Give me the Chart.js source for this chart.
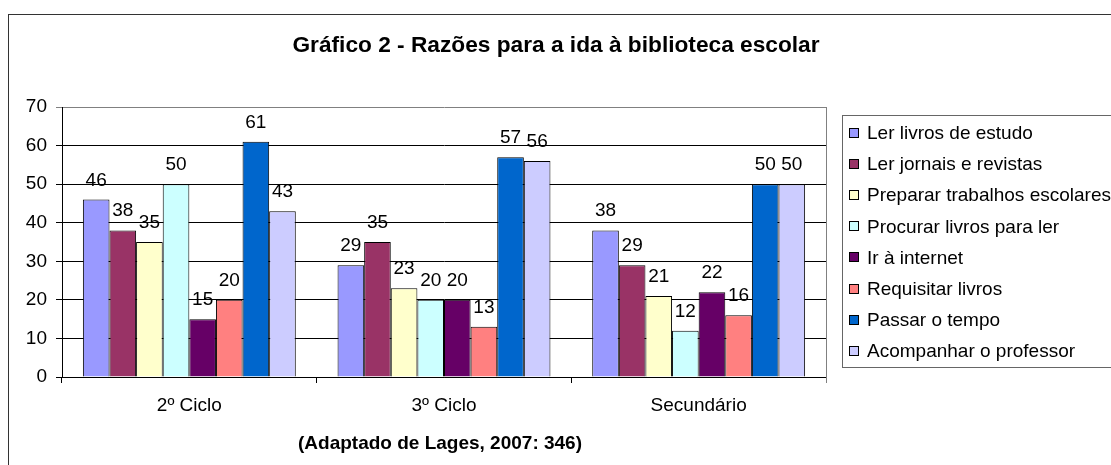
<!DOCTYPE html>
<html>
<head>
<meta charset="utf-8">
<script src="https://cdn.jsdelivr.net/npm/chart.js@4"></script>
<style>
    body { margin: 0; background: #fff; }
    #wrap { width: 1111px; height: 465px; }
</style>
</head>
<body>
<div id="wrap"><canvas id="myChart" width="1111" height="465"></canvas></div>
<script>
const categories = ["2º Ciclo", "3º Ciclo", "Secundário"];
const seriesNames = [
    "Ler livros de estudo",
    "Ler jornais e revistas",
    "Preparar trabalhos escolares",
    "Procurar livros para ler",
    "Ir à internet",
    "Requisitar livros",
    "Passar o tempo",
    "Acompanhar o professor"
];
const lerLivros = [46, 29, 38];
const lerJornais = [38, 35, 29];
const prepararTrabalhos = [35, 23, 21];
const procurarLivros = [50, 20, 12];
const irInternet = [15, 20, 22];
const requisitarLivros = [20, 13, 16];
const passarTempo = [61, 57, 50];
const acompanharProfessor = [43, 56, 50];
const yTicks = [0, 10, 20, 30, 40, 50, 60, 70];

const seriesValues = [lerLivros, lerJornais, prepararTrabalhos, procurarLivros,
    irInternet, requisitarLivros, passarTempo, acompanharProfessor];
const colors = ["#9999FF", "#993366", "#FFFFCC", "#CCFFFF", "#660066", "#FF8080", "#0066CC", "#CCCCFF"];

const FONT = "'Liberation Sans', Arial, sans-serif";
Chart.defaults.font.family = FONT;
Chart.defaults.color = "#000";

// title, source note, frame, value labels and legend box
const decorations = {
    id: "decorations",
    afterDraw(chart) {
        const ctx = chart.ctx;
        const area = chart.chartArea;
        ctx.save();

        // outer frame
        ctx.strokeStyle = "#333";
        ctx.lineWidth = 1;
        ctx.strokeRect(8.5, 14.5, 1200, 500);

        // plot right edge
        ctx.strokeStyle = "#808080";
        ctx.beginPath();
        ctx.moveTo(Math.round(area.right) + 0.5, area.top);
        ctx.lineTo(Math.round(area.right) + 0.5, area.bottom + 6);
        ctx.stroke();

        ctx.fillStyle = "#000";
        ctx.textAlign = "center";
        ctx.textBaseline = "alphabetic";
        ctx.font = "bold 22.7px " + FONT;
        ctx.fillText("Gráfico 2 - Razões para a ida à biblioteca escolar", 556, 52);

        ctx.font = "bold 19px " + FONT;
        ctx.fillText("(Adaptado de Lages, 2007: 346)", 440, 449);

        // value labels
        ctx.font = "19px " + FONT;
        chart.data.datasets.forEach((ds, i) => {
            const meta = chart.getDatasetMeta(i);
            meta.data.forEach((bar, j) => {
                ctx.fillText(String(ds.data[j]), bar.x, bar.y - 14);
            });
        });

        // legend
        const lx = 842.5, ly = 115.5;
        ctx.strokeStyle = "#666";
        ctx.strokeRect(lx, ly, 400, 252);
        ctx.textAlign = "left";
        chart.data.datasets.forEach((ds, i) => {
            const cy = 132.5 + i * 31.2;
            ctx.fillStyle = ds.backgroundColor;
            ctx.fillRect(849, Math.round(cy - 5), 10, 10);
            ctx.strokeStyle = "#000";
            ctx.strokeRect(849.5, Math.round(cy - 5) + 0.5, 9, 9);
            ctx.fillStyle = "#000";
            ctx.fillText(ds.label, 867, cy + 6.5);
        });

        ctx.restore();
    }
};

const ctx = document.getElementById("myChart").getContext("2d");
const chart = new Chart(ctx, {
    type: "bar",
    data: {
        labels: categories,
        datasets: seriesNames.map((name, i) => ({
            label: name,
            data: seriesValues[i],
            backgroundColor: colors[i],
            borderColor: "#000",
            borderWidth: 1,
            categoryPercentage: 0.836,
            barPercentage: 1
        }))
    },
    options: {
        responsive: false,
        animation: false,
        devicePixelRatio: 1,
        layout: {
            padding: { top: 107, right: 285, left: 0, bottom: 0 }
        },
        plugins: {
            legend: { display: false },
            tooltip: { enabled: false }
        },
        scales: {
            x: {
                grid: {
                    offset: true,
                    drawOnChartArea: false,
                    drawTicks: true,
                    tickLength: 6,
                    color: "#000"
                },
                border: { color: "#000" },
                ticks: {
                    font: { size: 19 },
                    color: "#000",
                    padding: 11,
                    maxRotation: 0
                },
                afterFit(scale) { scale.height = 88; }
            },
            y: {
                min: 0,
                max: 70,
                afterBuildTicks(scale) {
                    scale.ticks = yTicks.map(v => ({ value: v }));
                },
                grid: {
                    color: c => (c.tick && c.tick.value === 70 ? "#808080" : "#000"),
                    tickLength: 6
                },
                border: { color: "#000" },
                ticks: {
                    font: { size: 19 },
                    color: "#000",
                    padding: 9
                },
                afterFit(scale) { scale.width = 62; }
            }
        }
    },
    plugins: [decorations]
});
</script>
</body>
</html>
